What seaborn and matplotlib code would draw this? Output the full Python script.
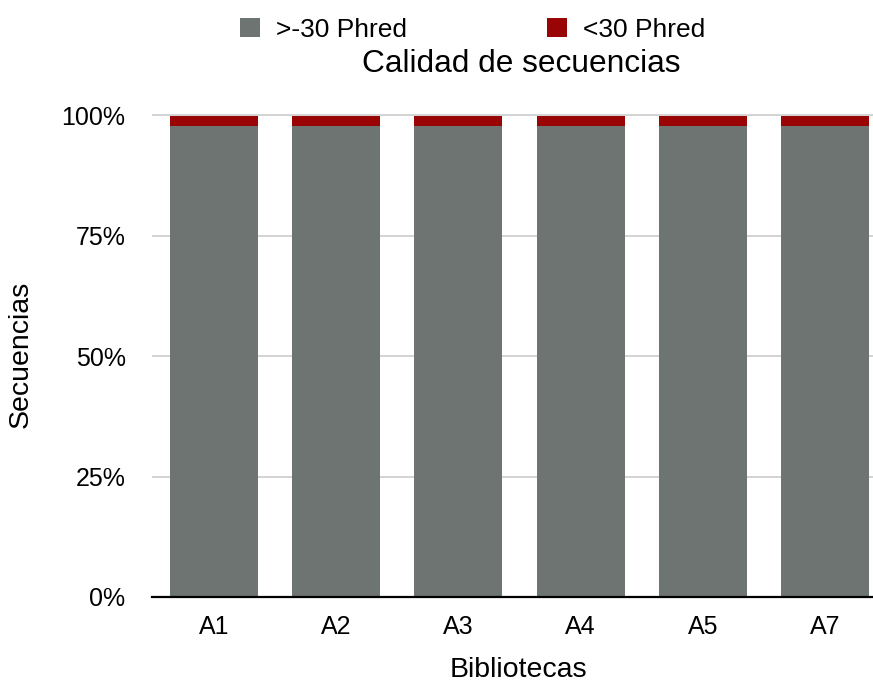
# plot.py
# Stacked bars: sequence quality per library (Phred)

import matplotlib
matplotlib.use('Agg')
import matplotlib.pyplot as plt
from matplotlib.patches import Patch
from matplotlib.ticker import FuncFormatter
import seaborn as sns

# ── Data ──────────────────────────────────────────────
libraries  = ['A1', 'A2', 'A3', 'A4', 'A5', 'A7']
high_q     = [97.7, 97.7, 97.7, 97.7, 97.7, 97.7]   # >-30 Phred (%)
low_q      = [2.1, 2.1, 2.1, 2.1, 2.1, 2.1]         # <30 Phred (%)
y_ticks    = [0, 25, 50, 75, 100]
series     = ['>-30 Phred', '<30 Phred']

# ── Style ─────────────────────────────────────────────
GRAY = '#6e7471'
RED  = '#990505'
sns.set_theme(style='white')
plt.rcParams['font.family'] = ['Liberation Sans', 'DejaVu Sans']

W, H = 873, 682
AX_H = 597 - 112.6
fig = plt.figure(figsize=(W / 100, H / 100), dpi=100)
ax = fig.add_axes([152 / W, (H - 597) / H, 721 / W, AX_H / H])

totals = [h + l for h, l in zip(high_q, low_q)]
sns.barplot(x=libraries, y=totals, color=RED, saturation=1, width=0.72,
            linewidth=0, ax=ax, zorder=2)
sns.barplot(x=libraries, y=high_q, color=GRAY, saturation=1, width=0.72,
            linewidth=0, ax=ax, zorder=3)

ax.set_xlim(-0.507, 5.393)
ax.set_ylim(0, 100.5)
ax.set_yticks(y_ticks)
ax.yaxis.set_major_formatter(FuncFormatter(lambda v, _: f'{v:.0f}%'))
ax.grid(axis='y', color='#c8c8c8', linewidth=1.1, zorder=0)
ax.set_axisbelow(True)
for s in ['top', 'right', 'left']:
    ax.spines[s].set_visible(False)
ax.spines['bottom'].set_color('black')
ax.spines['bottom'].set_linewidth(1.6)
ax.spines['bottom'].set_zorder(5)
ax.tick_params(axis='both', length=0, labelsize=18, colors='black')
ax.tick_params(axis='y', pad=19)
ax.tick_params(axis='x', pad=13)

ax.set_xlabel('Bibliotecas', fontsize=20.5, color='black')
ax.set_ylabel('Secuencias', fontsize=20.5, color='black')
ax.yaxis.set_label_coords(-(152 - 34) / 721, 0.5)
ax.xaxis.set_label_coords((518 - 152) / 721, -(657 - 597) / AX_H)

fig.text(521 / W, 1 - 64 / H, 'Calidad de secuencias', fontsize=22.8,
         ha='center', va='center', color='black')

handles = [Patch(facecolor=GRAY, edgecolor='none', label=series[0]),
           Patch(facecolor=RED, edgecolor='none', label=series[1])]
fig.legend(handles=handles, loc='center left', bbox_to_anchor=(240 / W, 1 - 30 / H),
           ncol=2, frameon=False, fontsize=19, borderpad=0, borderaxespad=0,
           handlelength=0.76, handleheight=0.72, handletextpad=0.6, columnspacing=5.3,
           labelcolor='black')

fig.savefig('out.png', dpi=100)
